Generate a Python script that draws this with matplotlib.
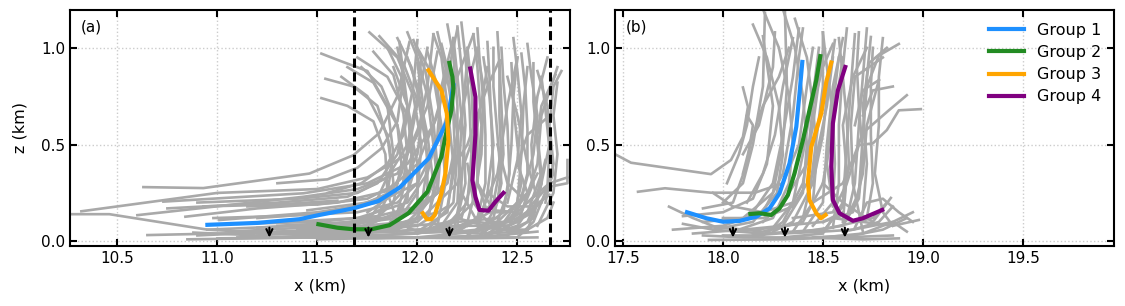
import numpy as np
import matplotlib
matplotlib.use("Agg")
import matplotlib.pyplot as plt

# ---- panel (a) data ----
a_g1_x = [10.95, 11.2, 11.41, 11.51, 11.68, 11.805, 11.91, 12.056, 12.147, 12.17, 12.18]
a_g1_z = [0.085, 0.095, 0.114, 0.136, 0.17, 0.208, 0.277, 0.428, 0.617, 0.746, 0.807]
a_g2_x = [11.505, 11.6, 11.68, 11.77, 11.86, 11.955, 12.05, 12.12, 12.147, 12.17, 12.18, 12.175, 12.16]
a_g2_z = [0.088, 0.07, 0.062, 0.062, 0.083, 0.145, 0.256, 0.437, 0.575, 0.678, 0.79, 0.85, 0.922]
a_g3_x = [12.055, 12.12, 12.147, 12.155, 12.14, 12.12, 12.087, 12.07, 12.047, 12.027]
a_g3_z = [0.884, 0.781, 0.661, 0.523, 0.351, 0.248, 0.136, 0.114, 0.114, 0.145]
a_g4_x = [12.264, 12.29, 12.29, 12.275, 12.29, 12.31, 12.355, 12.39, 12.43]
a_g4_z = [0.893, 0.746, 0.55, 0.316, 0.23, 0.162, 0.158, 0.204, 0.25]

a_gray = [
    [(10.26, 0.14), (10.46, 0.14), (10.95, 0.06), (11.3, 0.04), (11.8, 0.03), (12.1, 0.05), (12.2, 0.2), (12.22, 0.6), (12.25, 0.95)],
    [(10.32, 0.155), (11.0, 0.25), (11.5, 0.27), (11.75, 0.33), (11.95, 0.45), (12.05, 0.7), (12.1, 0.98)],
    [(10.63, 0.28), (10.93, 0.275), (11.46, 0.35), (11.68, 0.445), (11.81, 0.56), (11.9, 0.75), (11.96, 1.03)],
    [(10.6, 0.135), (11.43, 0.23), (11.7, 0.27), (11.9, 0.35), (12.0, 0.55), (12.05, 0.8), (12.08, 1.07)],
    [(10.73, 0.205), (11.43, 0.248), (11.75, 0.3), (11.95, 0.4), (12.08, 0.6), (12.15, 0.85), (12.2, 1.1)],
    [(10.84, 0.127), (11.2, 0.17), (11.6, 0.2), (11.85, 0.26), (12.0, 0.4), (12.1, 0.65), (12.15, 0.9)],
    [(10.65, 0.032), (11.0, 0.04), (11.6, 0.05), (12.0, 0.1), (12.2, 0.3), (12.3, 0.6), (12.35, 0.9)],
    [(10.85, 0.01), (11.5, 0.02), (12.0, 0.04), (12.3, 0.1), (12.4, 0.35), (12.45, 0.7), (12.5, 0.95)],
    [(11.01, 0.11), (11.5, 0.15), (11.8, 0.2), (12.0, 0.3), (12.12, 0.55), (12.2, 0.85), (12.28, 1.07)],
    [(11.07, 0.05), (11.6, 0.08), (11.9, 0.12), (12.1, 0.25), (12.25, 0.5), (12.35, 0.8), (12.41, 0.935)],
    [(10.9, 0.2), (11.4, 0.22), (11.7, 0.25), (11.85, 0.33), (11.95, 0.5), (12.0, 0.75), (12.02, 0.95)],
    [(10.75, 0.17), (11.3, 0.2), (11.65, 0.23), (11.8, 0.3), (11.9, 0.45), (11.95, 0.7), (11.91, 1.03)],
    [(11.52, 0.97), (11.62, 0.93), (11.75, 0.88), (11.85, 0.7), (11.88, 0.45), (11.85, 0.25), (11.75, 0.1), (11.5, 0.05)],
    [(11.54, 0.84), (11.68, 0.8), (11.8, 0.7), (11.86, 0.5), (11.88, 0.3), (11.8, 0.12), (11.6, 0.06)],
    [(11.52, 0.74), (11.65, 0.7), (11.78, 0.62), (11.84, 0.45), (11.85, 0.25), (11.9, 0.1), (12.0, 0.05)],
    [(11.76, 1.08), (11.9, 0.95), (11.98, 0.75), (12.02, 0.5), (12.0, 0.25), (11.9, 0.1), (11.7, 0.03)],
    [(11.81, 1.06), (11.93, 0.92), (12.01, 0.7), (12.05, 0.45), (12.05, 0.2), (11.95, 0.06)],
    [(11.7, 0.95), (11.85, 0.85), (11.95, 0.65), (12.0, 0.4), (12.0, 0.15)],
    [(12.08, 1.07), (12.12, 0.95), (12.15, 0.7), (12.18, 0.4), (12.15, 0.15), (12.0, 0.05)],
    [(12.0, 1.0), (12.08, 0.85), (12.12, 0.6), (12.14, 0.3), (12.1, 0.08)],
    [(12.2, 1.11), (12.22, 0.9), (12.24, 0.6), (12.22, 0.3), (12.2, 0.08)],
    [(12.28, 1.07), (12.3, 0.9), (12.32, 0.6), (12.3, 0.3), (12.25, 0.1), (12.1, 0.02)],
    [(12.33, 0.95), (12.36, 0.75), (12.38, 0.5), (12.35, 0.25), (12.3, 0.06)],
    [(12.41, 0.935), (12.42, 0.7), (12.43, 0.45), (12.4, 0.2), (12.32, 0.04)],
    [(12.5, 0.95), (12.48, 0.75), (12.47, 0.5), (12.45, 0.25), (12.4, 0.1), (12.3, 0.02)],
    [(12.55, 0.9), (12.53, 0.7), (12.52, 0.45), (12.5, 0.2), (12.4, 0.05)],
    [(12.65, 0.95), (12.6, 0.75), (12.57, 0.5), (12.58, 0.3), (12.5, 0.1), (12.35, 0.03)],
    [(12.69, 0.86), (12.62, 0.7), (12.6, 0.55), (12.62, 0.35), (12.55, 0.15), (12.4, 0.04)],
    [(12.75, 0.42), (12.75, 0.3), (12.65, 0.28), (12.58, 0.2), (12.5, 0.08), (12.3, 0.02)],
    [(12.65, 0.64), (12.55, 0.55), (12.5, 0.4), (12.55, 0.25), (12.45, 0.1)],
    [(11.95, 0.95), (12.0, 0.8), (12.05, 0.55), (12.08, 0.3), (12.0, 0.12), (11.8, 0.05)],
    [(12.12, 1.02), (12.16, 0.85), (12.2, 0.55), (12.22, 0.25), (12.18, 0.05)],
    [(12.38, 1.0), (12.38, 0.8), (12.4, 0.55), (12.42, 0.3), (12.38, 0.12), (12.25, 0.03)],
    [(12.45, 0.85), (12.5, 0.65), (12.55, 0.4), (12.6, 0.22), (12.55, 0.1), (12.45, 0.05)],
    [(12.6, 0.88), (12.65, 0.7), (12.66, 0.5), (12.62, 0.3), (12.55, 0.05)],
    [(11.88, 0.9), (11.95, 0.7), (11.97, 0.45), (11.95, 0.22), (11.85, 0.08), (11.6, 0.03)],
    [(11.65, 0.9), (11.78, 0.82), (11.9, 0.6), (11.95, 0.35), (11.9, 0.15), (11.7, 0.06)],
    [(12.3, 0.6), (12.3, 0.3), (12.35, 0.15), (12.45, 0.15), (12.55, 0.25), (12.6, 0.35)],
    [(12.2, 0.5), (12.22, 0.25), (12.3, 0.1), (12.45, 0.08), (12.58, 0.15), (12.62, 0.3)],
    [(11.1, 0.02), (11.6, 0.03), (12.0, 0.02), (12.4, 0.03), (12.6, 0.05)],
    [(11.2, 0.07), (11.7, 0.1), (12.0, 0.15), (12.15, 0.3), (12.2, 0.55), (12.25, 0.8), (12.3, 1.0)],
    [(12.0, 0.02), (12.3, 0.05), (12.5, 0.12), (12.62, 0.2)],
    [(11.35, 0.1), (11.7, 0.12), (11.95, 0.2), (12.05, 0.35), (12.1, 0.55), (12.12, 0.8), (12.18, 1.05)],
    [(11.45, 0.16), (11.75, 0.2), (11.92, 0.28), (12.0, 0.45), (12.03, 0.7), (12.0, 0.92)],
    [(11.9, 0.04), (12.2, 0.05), (12.4, 0.07), (12.52, 0.15), (12.6, 0.4), (12.62, 0.65), (12.7, 0.9)],
    [(11.85, 1.0), (11.92, 0.85), (11.97, 0.6), (11.98, 0.35), (11.92, 0.15), (11.7, 0.07), (11.3, 0.05)],
    [(11.9, 1.05), (11.97, 0.9), (12.03, 0.65), (12.05, 0.4), (12.02, 0.18), (11.85, 0.08), (11.4, 0.06)],
    [(11.98, 1.04), (12.04, 0.88), (12.08, 0.62), (12.1, 0.38), (12.06, 0.15), (11.9, 0.06), (11.5, 0.04)],
    [(12.05, 0.98), (12.1, 0.8), (12.12, 0.5), (12.1, 0.25), (11.95, 0.1), (11.6, 0.07)],
    [(12.1, 1.08), (12.14, 0.9), (12.18, 0.65), (12.19, 0.4), (12.15, 0.18), (12.0, 0.08), (11.7, 0.05)],
    [(12.18, 1.05), (12.2, 0.85), (12.23, 0.55), (12.24, 0.3), (12.2, 0.12), (12.0, 0.04)],
    [(12.25, 1.0), (12.27, 0.8), (12.28, 0.55), (12.27, 0.3), (12.22, 0.12), (12.05, 0.05)],
    [(12.3, 0.98), (12.33, 0.8), (12.34, 0.55), (12.34, 0.3), (12.3, 0.12), (12.15, 0.03)],
    [(12.35, 1.03), (12.36, 0.85), (12.37, 0.6), (12.38, 0.35), (12.36, 0.15), (12.2, 0.05)],
    [(12.42, 1.0), (12.43, 0.82), (12.45, 0.6), (12.46, 0.35), (12.43, 0.15), (12.3, 0.05)],
    [(12.47, 0.92), (12.48, 0.7), (12.5, 0.5), (12.52, 0.3), (12.48, 0.12), (12.35, 0.04)],
    [(12.52, 0.97), (12.54, 0.78), (12.55, 0.58), (12.55, 0.35), (12.5, 0.15), (12.38, 0.06)],
    [(12.58, 0.92), (12.58, 0.72), (12.6, 0.5), (12.62, 0.3), (12.58, 0.12), (12.45, 0.03)],
    [(12.62, 0.85), (12.64, 0.68), (12.66, 0.48), (12.65, 0.28), (12.58, 0.1), (12.5, 0.02)],
    [(12.7, 0.82), (12.68, 0.65), (12.7, 0.45), (12.68, 0.25), (12.6, 0.08)],
    [(11.78, 0.98), (11.88, 0.86), (11.93, 0.66), (11.95, 0.45), (11.92, 0.25), (11.8, 0.12), (11.5, 0.08)],
    [(11.72, 0.9), (11.82, 0.8), (11.9, 0.6), (11.92, 0.4), (11.88, 0.2), (11.7, 0.1), (11.3, 0.08)],
    [(11.62, 0.85), (11.75, 0.75), (11.85, 0.55), (11.87, 0.38), (11.8, 0.22), (11.6, 0.15), (11.2, 0.12)],
    [(11.95, 1.08), (12.0, 0.95), (12.05, 0.75), (12.08, 0.5), (12.1, 0.3), (12.05, 0.12)],
    [(12.15, 1.12), (12.18, 0.95), (12.2, 0.7), (12.2, 0.45), (12.18, 0.2), (12.05, 0.06)],
    [(12.22, 1.13), (12.24, 0.95), (12.26, 0.7), (12.27, 0.45), (12.25, 0.2), (12.12, 0.05)],
    [(12.3, 1.1), (12.31, 0.95), (12.33, 0.72), (12.32, 0.45), (12.28, 0.2), (12.15, 0.07)],
    [(12.4, 1.08), (12.41, 0.9), (12.41, 0.65), (12.42, 0.42), (12.38, 0.2), (12.25, 0.08)],
    [(12.48, 1.05), (12.5, 0.88), (12.52, 0.66), (12.5, 0.42), (12.45, 0.2)],
    [(12.55, 1.02), (12.57, 0.85), (12.6, 0.65), (12.58, 0.45), (12.52, 0.22), (12.4, 0.1)],
    [(12.72, 0.88), (12.68, 0.8), (12.66, 0.6), (12.68, 0.4), (12.64, 0.2)],
    [(12.25, 0.4), (12.28, 0.2), (12.35, 0.1), (12.5, 0.1), (12.62, 0.2), (12.68, 0.35), (12.66, 0.5)],
    [(12.3, 0.3), (12.38, 0.16), (12.5, 0.15), (12.6, 0.25), (12.64, 0.42)],
    [(12.4, 0.5), (12.45, 0.3), (12.55, 0.2), (12.66, 0.3), (12.75, 0.33)],
    [(12.2, 0.12), (12.4, 0.06), (12.55, 0.06), (12.65, 0.12), (12.68, 0.2)],
    [(12.35, 0.25), (12.45, 0.18), (12.58, 0.18), (12.66, 0.24)],
    [(10.9, 0.03), (11.3, 0.05), (11.7, 0.04), (12.0, 0.06), (12.3, 0.04), (12.55, 0.05)],
    [(10.95, 0.06), (11.4, 0.08), (11.8, 0.07), (12.1, 0.09), (12.4, 0.12)],
    [(11.0, 0.015), (11.4, 0.02), (11.8, 0.015), (12.2, 0.02), (12.5, 0.02)],
    [(10.88, 0.045), (11.2, 0.03), (11.6, 0.06), (11.9, 0.09), (12.1, 0.15)],
    [(11.1, 0.09), (11.5, 0.1), (11.8, 0.13), (12.0, 0.18), (12.1, 0.25)],
    [(10.98, 0.12), (11.3, 0.13), (11.7, 0.15), (11.9, 0.2), (12.0, 0.3)],
    [(11.15, 0.18), (11.5, 0.19), (11.75, 0.22), (11.9, 0.3)],
    [(10.93, 0.18), (11.3, 0.19), (11.6, 0.21)],
    [(11.2, 0.04), (11.55, 0.04), (11.9, 0.05), (12.2, 0.08), (12.45, 0.08)],
    [(11.5, 0.01), (11.9, 0.02), (12.25, 0.015), (12.6, 0.02)],
    [(11.3, 0.3), (11.55, 0.32), (11.7, 0.38), (11.82, 0.48), (11.9, 0.62), (11.93, 0.85), (11.9, 1.0)],
    [(11.55, 0.25), (11.72, 0.3), (11.85, 0.4), (11.93, 0.55), (11.98, 0.8), (12.0, 1.04)],
    [(11.75, 0.15), (11.85, 0.22), (11.92, 0.35), (11.97, 0.55), (12.02, 0.82), (12.05, 1.0)],
]

a_arrows = [11.26, 11.755, 12.16]
a_dashed = [11.685, 12.665]

# ---- panel (b) data ----
b_g1_x = [17.82, 17.917, 18.0, 18.083, 18.167, 18.233, 18.283, 18.333, 18.367, 18.383, 18.397]
b_g1_z = [0.15, 0.119, 0.101, 0.105, 0.127, 0.17, 0.248, 0.403, 0.592, 0.764, 0.927]
b_g2_x = [18.137, 18.183, 18.242, 18.283, 18.325, 18.358, 18.4, 18.433, 18.467, 18.487]
b_g2_z = [0.141, 0.145, 0.136, 0.17, 0.239, 0.351, 0.523, 0.678, 0.833, 0.957]
b_g3_x = [18.542, 18.517, 18.492, 18.442, 18.425, 18.433, 18.467, 18.49, 18.513]
b_g3_z = [0.924, 0.824, 0.661, 0.488, 0.308, 0.213, 0.145, 0.119, 0.136]
b_g4_x = [18.612, 18.575, 18.55, 18.542, 18.55, 18.583, 18.65, 18.7, 18.797]
b_g4_z = [0.901, 0.78, 0.609, 0.385, 0.213, 0.145, 0.106, 0.119, 0.162]

b_gray = [
    [(17.46, 0.45), (17.54, 0.406), (17.94, 0.347), (18.04, 0.42), (18.1, 0.54), (18.125, 0.695), (18.1, 0.795)],
    [(17.575, 0.256), (17.71, 0.274), (17.94, 0.251), (18.16, 0.251), (18.3, 0.3), (18.38, 0.5), (18.42, 0.8), (18.45, 1.0)],
    [(17.73, 0.179), (17.85, 0.12), (17.96, 0.075), (18.2, 0.05), (18.4, 0.1), (18.5, 0.3), (18.55, 0.6), (18.6, 0.95)],
    [(17.93, 0.007), (18.3, 0.01), (18.6, 0.02), (18.85, 0.03)],
    [(17.75, 0.06), (18.0, 0.08), (18.2, 0.15), (18.3, 0.35), (18.35, 0.65), (18.38, 0.95), (18.4, 1.1)],
    [(17.8, 0.13), (18.0, 0.15), (18.15, 0.22), (18.22, 0.4), (18.25, 0.7), (18.2, 1.06)],
    [(18.0, 0.2), (18.1, 0.3), (18.15, 0.5), (18.2, 0.8), (18.21, 1.18)],
    [(17.9, 0.1), (18.1, 0.12), (18.25, 0.25), (18.3, 0.5), (18.32, 0.8), (18.31, 1.19)],
    [(18.05, 0.05), (18.25, 0.07), (18.35, 0.2), (18.4, 0.45), (18.45, 0.75), (18.48, 1.0)],
    [(18.15, 0.03), (18.4, 0.05), (18.5, 0.2), (18.52, 0.5), (18.55, 0.8), (18.6, 1.05)],
    [(18.3, 0.02), (18.5, 0.04), (18.6, 0.2), (18.62, 0.5), (18.64, 0.8), (18.66, 1.07)],
    [(18.4, 0.05), (18.6, 0.08), (18.68, 0.25), (18.7, 0.55), (18.72, 0.85), (18.74, 1.056)],
    [(18.5, 0.1), (18.65, 0.15), (18.7, 0.35), (18.72, 0.6), (18.78, 0.833)],
    [(18.35, 0.12), (18.55, 0.15), (18.62, 0.3), (18.68, 0.497), (18.75, 0.506), (18.82, 0.575), (18.88, 0.677), (18.99, 0.683)],
    [(18.45, 0.2), (18.6, 0.3), (18.66, 0.45), (18.7, 0.56), (18.83, 0.677), (18.92, 0.755)],
    [(18.6, 0.05), (18.75, 0.08), (18.85, 0.1), (18.92, 0.05)],
    [(18.55, 0.12), (18.7, 0.1), (18.85, 0.08), (18.98, 0.11)],
    [(18.5, 0.3), (18.6, 0.2), (18.75, 0.1), (18.84, 0.224)],
    [(18.1, 0.35), (18.15, 0.55), (18.2, 0.7), (18.28, 0.85), (18.33, 1.0)],
    [(18.2, 0.1), (18.3, 0.2), (18.42, 0.4), (18.45, 0.7), (18.5, 0.9), (18.55, 1.02)],
    [(18.0, 0.03), (18.2, 0.03), (18.3, 0.1), (18.4, 0.3), (18.45, 0.6), (18.5, 0.98)],
    [(18.6, 0.1), (18.62, 0.35), (18.6, 0.6), (18.65, 0.85), (18.72, 1.0)],
    [(18.55, 0.07), (18.58, 0.3), (18.58, 0.6), (18.6, 0.9), (18.62, 1.1)],
    [(18.7, 0.05), (18.65, 0.3), (18.64, 0.6), (18.66, 0.85), (18.8, 0.95)],
    [(18.15, 0.15), (18.25, 0.3), (18.3, 0.55), (18.35, 0.85), (18.38, 1.1)],
    [(17.9, 0.17), (18.05, 0.2), (18.12, 0.4), (18.15, 0.6), (18.12, 0.65)],
    [(18.25, 0.05), (18.35, 0.1), (18.45, 0.3), (18.5, 0.55), (18.52, 0.75), (18.56, 1.04)],
    [(18.0, 0.12), (18.2, 0.12), (18.35, 0.18), (18.45, 0.35), (18.52, 0.7), (18.55, 0.95)],
    [(18.7, 0.15), (18.72, 0.4), (18.7, 0.7), (18.73, 0.92), (18.82, 1.0)],
    [(18.45, 0.02), (18.65, 0.03), (18.8, 0.06), (18.92, 0.12)],
    [(17.85, 0.04), (18.1, 0.06), (18.3, 0.08), (18.5, 0.1), (18.6, 0.15)],
    [(18.1, 0.45), (18.18, 0.6), (18.25, 0.9), (18.26, 1.08)],
    [(18.2, 1.2), (18.28, 1.0), (18.33, 0.75), (18.35, 0.5), (18.33, 0.3), (18.25, 0.12), (18.05, 0.05)],
    [(18.15, 1.12), (18.22, 0.95), (18.28, 0.7), (18.3, 0.45), (18.27, 0.25), (18.15, 0.1), (17.95, 0.06)],
    [(18.3, 1.2), (18.36, 1.0), (18.4, 0.75), (18.42, 0.5), (18.4, 0.25), (18.3, 0.08)],
    [(18.36, 1.15), (18.42, 0.95), (18.45, 0.7), (18.47, 0.45), (18.45, 0.2), (18.35, 0.05)],
    [(18.5, 1.08), (18.52, 0.9), (18.55, 0.65), (18.56, 0.4), (18.55, 0.2), (18.45, 0.08)],
    [(18.58, 1.05), (18.6, 0.85), (18.62, 0.62), (18.63, 0.4), (18.6, 0.18), (18.5, 0.05)],
    [(18.68, 1.08), (18.67, 0.9), (18.68, 0.7), (18.7, 0.45), (18.68, 0.22), (18.6, 0.08)],
    [(18.75, 1.0), (18.74, 0.8), (18.74, 0.55), (18.75, 0.3), (18.72, 0.12)],
    [(18.8, 1.05), (18.78, 0.85), (18.78, 0.6), (18.76, 0.35), (18.8, 0.15), (18.85, 0.08)],
    [(18.88, 1.02), (18.78, 0.96), (18.72, 0.8), (18.7, 0.55)],
    [(18.85, 0.8), (18.75, 0.78), (18.7, 0.65)],
    [(18.78, 0.833), (18.7, 0.78), (18.66, 0.6)],
    [(18.85, 0.18), (18.78, 0.1), (18.65, 0.06), (18.5, 0.05), (18.3, 0.04)],
    [(18.95, 0.15), (18.85, 0.1), (18.7, 0.04), (18.5, 0.02)],
    [(17.9, 0.03), (18.1, 0.02), (18.4, 0.02), (18.7, 0.01), (18.88, 0.015)],
    [(17.8, 0.09), (17.95, 0.06), (18.2, 0.04), (18.5, 0.06), (18.75, 0.12), (18.82, 0.2)],
    [(17.95, 0.25), (18.05, 0.18), (18.2, 0.15), (18.35, 0.2)],
    [(18.02, 0.3), (18.08, 0.45), (18.12, 0.6), (18.15, 0.8), (18.18, 0.95)],
    [(18.12, 0.2), (18.2, 0.35), (18.26, 0.55), (18.3, 0.8), (18.35, 1.05)],
    [(18.4, 0.12), (18.44, 0.3), (18.47, 0.55), (18.5, 0.8), (18.5, 1.08)],
    [(18.62, 0.12), (18.66, 0.3), (18.68, 0.6), (18.7, 0.85), (18.72, 1.1)],
    [(18.55, 0.18), (18.52, 0.4), (18.55, 0.7), (18.58, 0.95)],
    [(18.66, 0.07), (18.72, 0.2), (18.8, 0.22), (18.88, 0.15), (18.95, 0.1)],
]

b_arrows = [18.05, 18.31, 18.61]

group_names = ["Group 1", "Group 2", "Group 3", "Group 4"]
group_colors = ["#1E90FF", "#228B22", "#FFA500", "#800080"]

plt.rcParams['font.family'] = 'DejaVu Sans'
plt.rcParams['font.size'] = 11

fig = plt.figure(figsize=(11.25, 3.06), dpi=100)
ax1 = fig.add_axes([0.0622, 0.197, 0.4445, 0.770])
ax2 = fig.add_axes([0.5467, 0.197, 0.4436, 0.770])


def style(ax, xlim):
    ax.set_xlim(*xlim)
    ax.set_ylim(-0.023, 1.195)
    ax.set_yticks([0.0, 0.5, 1.0])
    ax.grid(True, linestyle=':', color='#cccccc', linewidth=1)
    ax.set_axisbelow(True)
    ax.tick_params(direction='in', top=True, right=True, length=5, width=1.5, labelsize=11)
    for s in ax.spines.values():
        s.set_linewidth(1.5)
    ax.set_xlabel("x (km)", fontsize=11.5, labelpad=9)


for ax, gray, groups, arrows in [
    (ax1, a_gray, [(a_g1_x, a_g1_z), (a_g2_x, a_g2_z), (a_g3_x, a_g3_z), (a_g4_x, a_g4_z)], a_arrows),
    (ax2, b_gray, [(b_g1_x, b_g1_z), (b_g2_x, b_g2_z), (b_g3_x, b_g3_z), (b_g4_x, b_g4_z)], b_arrows),
]:
    for tr in gray:
        xs, zs = zip(*tr)
        ax.plot(xs, zs, color='#a9a9a9', lw=1.9, zorder=2)
    for (gx, gz), name, c in zip(groups, group_names, group_colors):
        ax.plot(gx, gz, color=c, lw=3, label=name, zorder=4)
    for xa in arrows:
        ax.annotate("", xy=(xa, 0.005), xytext=(xa, 0.085),
                    arrowprops=dict(arrowstyle='->', color='black', lw=1.5), zorder=5)

for xd in a_dashed:
    ax1.axvline(xd, color='black', lw=2.2, linestyle=(0, (3, 1.5)), zorder=5)

style(ax1, (10.263, 12.763))
style(ax2, (17.46, 19.957))
ax1.set_ylabel("z (km)", fontsize=11.5, labelpad=10)
ax1.text(0.022, 0.93, "(a)", transform=ax1.transAxes, fontsize=11, va='center')
ax2.text(0.022, 0.93, "(b)", transform=ax2.transAxes, fontsize=11, va='center')
ax2.legend(loc='upper right', frameon=False, fontsize=11.5, handlelength=2.2,
           borderaxespad=0.4, labelspacing=0.45)

fig.savefig("out.png", dpi=100)
